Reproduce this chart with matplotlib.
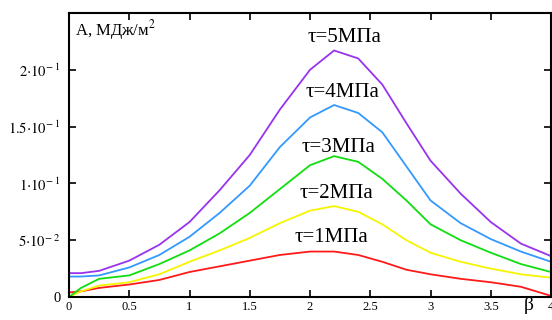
import numpy as np
import matplotlib
matplotlib.use('Agg')
import matplotlib.pyplot as plt

plt.rcParams['font.family'] = ['Liberation Serif', 'DejaVu Serif']
plt.rcParams['mathtext.fontset'] = 'stix'

# beta values and curves
beta = [0, 0.1, 0.25, 0.5, 0.75, 1.0, 1.25, 1.5, 1.75, 2.0, 2.2, 2.4, 2.6, 2.8, 3.0, 3.25, 3.5, 3.75, 4.0]
A_1 = [0.004, 0.005, 0.008, 0.011, 0.015, 0.022, 0.027, 0.032, 0.037, 0.040, 0.040, 0.037, 0.031, 0.024, 0.020, 0.016, 0.013, 0.009, 0.001]
A_2 = [0.0, 0.005, 0.010, 0.013, 0.020, 0.031, 0.041, 0.052, 0.065, 0.076, 0.080, 0.075, 0.064, 0.050, 0.039, 0.031, 0.025, 0.020, 0.017]
A_3 = [0.0, 0.008, 0.016, 0.019, 0.029, 0.041, 0.056, 0.074, 0.095, 0.116, 0.124, 0.119, 0.104, 0.085, 0.064, 0.050, 0.039, 0.029, 0.022]
A_4 = [0.018, 0.018, 0.019, 0.026, 0.037, 0.053, 0.074, 0.098, 0.132, 0.158, 0.169, 0.162, 0.145, 0.115, 0.085, 0.065, 0.051, 0.040, 0.031]
A_5 = [0.021, 0.021, 0.023, 0.032, 0.046, 0.066, 0.094, 0.125, 0.165, 0.200, 0.217, 0.210, 0.187, 0.153, 0.120, 0.091, 0.066, 0.047, 0.036]

curves = [A_1, A_2, A_3, A_4, A_5]
labels = ['τ=1МПа', 'τ=2МПа', 'τ=3МПа', 'τ=4МПа', 'τ=5МПа']
colors = ['#ff1a1a', '#f5f500', '#11dd11', '#3399ff', '#9933ee']
label_pos = [(2.18, 0.052), (2.22, 0.091), (2.24, 0.132), (2.27, 0.180), (2.29, 0.228)]

xticks = [0, 0.5, 1, 1.5, 2, 2.5, 3, 3.5, 4]
xticklabels = ['0', '0.5', '1', '1.5', '2', '2.5', '3', '3.5', '4']
yticks = [0, 0.05, 0.1, 0.15, 0.2]
yticklabels = ['0', r'$5{\cdot}10^{-\;2}$', r'$1{\cdot}10^{-\;1}$', r'$1.5{\cdot}10^{-\;1}$', r'$2{\cdot}10^{-\;1}$']

fig = plt.figure(figsize=(5.52, 3.20), dpi=100)
ax = fig.add_axes([69/552, 23/320, 482/552, 284/320])

for y, c in zip(curves, colors):
    ax.plot(beta, y, color=c, lw=1.3)

for (lx, ly), txt in zip(label_pos, labels):
    ax.text(lx, ly, txt, ha='center', va='center', fontsize=15)

ax.set_xlim(0, 4)
ax.set_ylim(0, 0.25)
ax.set_xticks(xticks)
ax.set_xticklabels(xticklabels, fontsize=9)
ax.set_yticks(yticks)
ax.set_yticklabels(yticklabels, fontsize=10.5)
ax.tick_params(direction='in', length=5, width=1.2, top=True, right=True)
ax.tick_params(axis='y', pad=6)
ax.tick_params(axis='x', pad=3)
for s in ax.spines.values():
    s.set_linewidth(1.5)

ax.text(0.05, 0.235, 'A, МДж/м$^2$', fontsize=12, ha='left', va='center')
fig.text(529/552, 1 - 306/320, 'β', fontsize=14, ha='center', va='center')

fig.savefig('out.png', dpi=100)
